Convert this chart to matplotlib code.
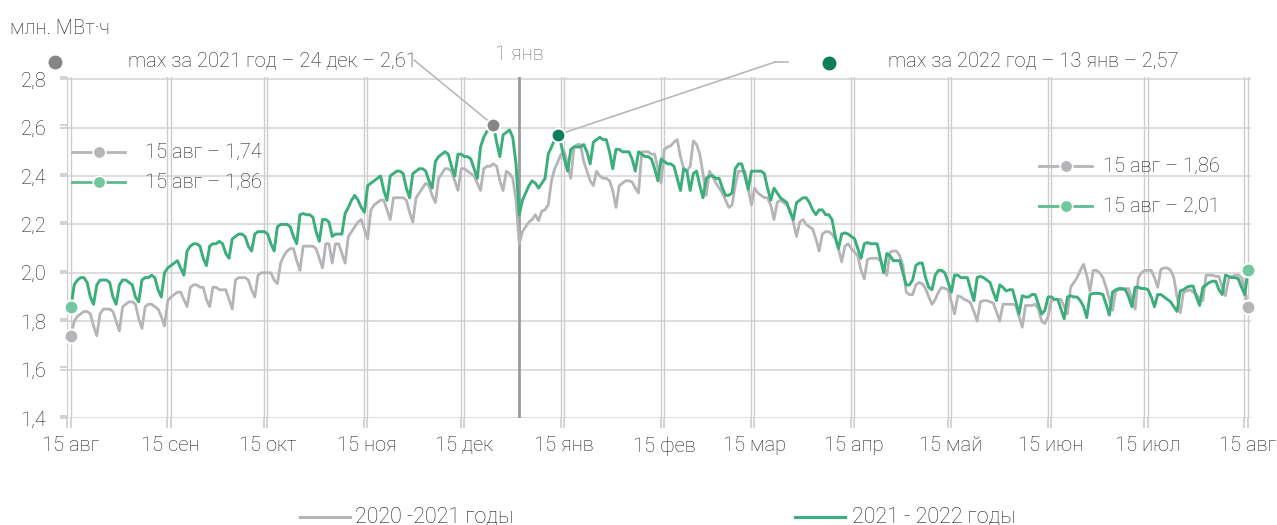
import numpy as np
import matplotlib
matplotlib.use("Agg")
import matplotlib.pyplot as plt
from matplotlib.lines import Line2D
import datetime as dt

plt.rcParams['font.family'] = ['Roboto', 'DejaVu Sans']
plt.rcParams['font.weight'] = 'light'

# ---------------- data ----------------
# daily consumption, 15 Aug -> 15 Aug (366 points)
series_2021_2022 = [
    1.86,
    1.95, 1.97, 1.98, 1.98, 1.96, 1.90, 1.87,
    1.95, 1.97, 1.97, 1.97, 1.96, 1.90, 1.87,
    1.95, 1.97, 1.97, 1.96, 1.95, 1.90, 1.88,
    1.97, 1.98, 1.98, 1.99, 1.98, 1.93, 1.90,
    2.00, 2.02, 2.03, 2.04, 2.05, 2.02, 1.99,
    2.09, 2.11, 2.12, 2.12, 2.11, 2.06, 2.03,
    2.11, 2.12, 2.12, 2.13, 2.12, 2.08, 2.06,
    2.14, 2.15, 2.16, 2.16, 2.15, 2.11, 2.09,
    2.16, 2.17, 2.17, 2.17, 2.16, 2.12, 2.09,
    2.19, 2.20, 2.20, 2.20, 2.19, 2.15, 2.12,
    2.24, 2.245, 2.24, 2.24, 2.23, 2.17, 2.13,
    2.22, 2.22, 2.21, 2.15, 2.16, 2.16, 2.16,
    2.245, 2.27, 2.30, 2.32, 2.30, 2.27, 2.25,
    2.36, 2.37, 2.38, 2.39, 2.40, 2.34, 2.30,
    2.40, 2.41, 2.42, 2.42, 2.41, 2.35, 2.31,
    2.41, 2.42, 2.43, 2.43, 2.42, 2.38, 2.35,
    2.46, 2.48, 2.49, 2.50, 2.49, 2.44, 2.40,
    2.49, 2.49, 2.48, 2.48, 2.47, 2.43, 2.39,
    2.52, 2.56, 2.585, 2.59, 2.61, 2.54, 2.48,
    2.57, 2.58, 2.59, 2.56, 2.45, 2.24, 2.30,
    2.33, 2.36, 2.38, 2.37, 2.35, 2.37, 2.39,
    2.49, 2.52, 2.55, 2.57, 2.53, 2.47, 2.42,
    2.51, 2.52, 2.52, 2.52, 2.53, 2.50, 2.45,
    2.54, 2.55, 2.56, 2.55, 2.55, 2.50, 2.43,
    2.51, 2.51, 2.50, 2.50, 2.50, 2.47, 2.42,
    2.50, 2.49, 2.48, 2.48, 2.47, 2.43, 2.38,
    2.47, 2.46, 2.45, 2.45, 2.44, 2.39, 2.34,
    2.43, 2.42, 2.34, 2.41, 2.42, 2.36, 2.31,
    2.39, 2.40, 2.40, 2.39, 2.39, 2.35, 2.32,
    2.32, 2.33, 2.43, 2.45, 2.45, 2.40, 2.345,
    2.42, 2.42, 2.42, 2.42, 2.41, 2.35, 2.30,
    2.35, 2.33, 2.31, 2.30, 2.29, 2.25, 2.22,
    2.29, 2.30, 2.31, 2.31, 2.29, 2.26, 2.24,
    2.26, 2.26, 2.24, 2.24, 2.22, 2.15, 2.10,
    2.16, 2.165, 2.16, 2.15, 2.14, 2.10, 2.06,
    2.12, 2.125, 2.12, 2.12, 2.12, 2.06, 2.00,
    2.08, 2.07, 2.05, 2.05, 2.05, 2.00, 1.95,
    1.95, 1.97, 2.03, 2.04, 2.04, 1.98, 1.94,
    1.93, 1.99, 2.01, 2.01, 2.00, 1.96, 1.92,
    1.99, 1.99, 1.98, 1.98, 1.98, 1.93, 1.885,
    1.98, 1.985, 1.98, 1.97, 1.96, 1.92, 1.885,
    1.95, 1.94, 1.925, 1.93, 1.93, 1.88, 1.83,
    1.905, 1.90, 1.90, 1.91, 1.91, 1.87, 1.83,
    1.845, 1.90, 1.90, 1.89, 1.89, 1.85, 1.81,
    1.90, 1.905, 1.90, 1.90, 1.885, 1.86, 1.815,
    1.91, 1.915, 1.915, 1.915, 1.91, 1.87, 1.825,
    1.92, 1.93, 1.935, 1.935, 1.93, 1.90, 1.86,
    1.94, 1.94, 1.935, 1.935, 1.93, 1.90, 1.86,
    1.91, 1.91, 1.90, 1.89, 1.88, 1.86, 1.84,
    1.925, 1.93, 1.94, 1.945, 1.945, 1.90, 1.865,
    1.94, 1.95, 1.96, 1.965, 1.965, 1.93, 1.91,
    1.99, 1.985, 1.98, 1.98, 1.975, 1.94, 1.91,
    2.01,
]

series_2020_2021 = [
    1.74, 1.80,
    1.82, 1.83, 1.84, 1.84, 1.83, 1.78, 1.74,
    1.83, 1.85, 1.85, 1.85, 1.84, 1.80, 1.76,
    1.86, 1.87, 1.88, 1.88, 1.87, 1.81, 1.77,
    1.86, 1.87, 1.87, 1.86, 1.85, 1.82, 1.78,
    1.885, 1.90, 1.91, 1.92, 1.92, 1.89, 1.86,
    1.94, 1.95, 1.95, 1.94, 1.94, 1.89, 1.86,
    1.94, 1.94, 1.93, 1.93, 1.93, 1.89, 1.85,
    1.97, 1.98, 1.98, 1.98, 1.97, 1.93, 1.90,
    1.99, 2.00, 2.00, 2.00, 2.00, 1.97, 1.955,
    2.04, 2.07, 2.09, 2.10, 2.10, 2.05, 2.01,
    2.11, 2.11, 2.11, 2.11, 2.10, 2.06, 2.02,
    2.12, 2.12, 2.04, 2.12, 2.12, 2.08, 2.04,
    2.15, 2.17, 2.19, 2.21, 2.22, 2.18, 2.14,
    2.26, 2.28, 2.29, 2.30, 2.30, 2.26, 2.22,
    2.31, 2.31, 2.31, 2.31, 2.30, 2.25, 2.21,
    2.31, 2.33, 2.35, 2.37, 2.36, 2.32, 2.29,
    2.39, 2.41, 2.43, 2.43, 2.42, 2.38, 2.34,
    2.43, 2.43, 2.42, 2.41, 2.40, 2.37, 2.34,
    2.43, 2.44, 2.44, 2.45, 2.44, 2.38, 2.34,
    2.42, 2.41, 2.39, 2.30, 2.12, 2.17, 2.19,
    2.21, 2.22, 2.24, 2.215, 2.255, 2.26, 2.28,
    2.38, 2.43, 2.46, 2.49, 2.50, 2.45, 2.39,
    2.52, 2.53, 2.53, 2.46, 2.42, 2.38, 2.36,
    2.42, 2.40, 2.39, 2.39, 2.38, 2.34, 2.27,
    2.36, 2.37, 2.38, 2.38, 2.375, 2.35, 2.33,
    2.50, 2.50, 2.50, 2.49, 2.49, 2.43, 2.37,
    2.51, 2.52, 2.525, 2.54, 2.55, 2.48, 2.43,
    2.42, 2.44, 2.545, 2.53, 2.49, 2.41, 2.32,
    2.42, 2.40, 2.37, 2.35, 2.33, 2.30, 2.27,
    2.28, 2.36, 2.42, 2.42, 2.42, 2.35, 2.28,
    2.35, 2.33, 2.32, 2.31, 2.31, 2.28, 2.22,
    2.29, 2.30, 2.29, 2.28, 2.26, 2.21, 2.15,
    2.21, 2.22, 2.20, 2.19, 2.18, 2.14, 2.09,
    2.16, 2.17, 2.17, 2.16, 2.14, 2.10, 2.045,
    2.11, 2.12, 2.10, 2.085, 2.07, 2.01, 1.975,
    2.055, 2.06, 2.06, 2.06, 2.05, 2.02, 1.99,
    2.085, 2.09, 2.09, 2.07, 2.03, 1.92, 1.91,
    1.91, 1.95, 1.96, 1.955, 1.935, 1.90, 1.87,
    1.89, 1.92, 1.94, 1.935, 1.93, 1.88, 1.83,
    1.905, 1.90, 1.89, 1.885, 1.875, 1.84, 1.80,
    1.88, 1.885, 1.885, 1.88, 1.875, 1.84, 1.80,
    1.87, 1.87, 1.87, 1.87, 1.865, 1.82, 1.775,
    1.865, 1.865, 1.865, 1.87, 1.85, 1.80, 1.79,
    1.82, 1.885, 1.89, 1.89, 1.89, 1.86, 1.83,
    1.94, 1.96, 1.98, 2.01, 2.035, 1.99, 1.925,
    2.01, 2.01, 2.00, 1.98, 1.94, 1.89, 1.845,
    1.925, 1.93, 1.93, 1.935, 1.935, 1.89, 1.85,
    1.98, 2.00, 2.01, 2.01, 2.01, 1.98, 1.94,
    2.015, 2.02, 2.02, 2.01, 1.98, 1.90, 1.835,
    1.92, 1.925, 1.93, 1.92, 1.91, 1.895, 1.885,
    1.99, 1.99, 1.99, 1.985, 1.985, 1.94, 1.905,
    1.975, 1.985, 1.99, 1.99, 1.98, 1.93, 1.86,
]

tick_days = [0, 31, 61, 92, 122, 153, 184, 212, 243, 273, 304, 334, 365]
tick_labels = ['15 авг', '15 сен', '15 окт', '15 ноя', '15 дек', '15 янв', '15 фев',
               '15 мар', '15 апр', '15 май', '15 июн', '15 июл', '15 авг']
y_ticks = [1.4, 1.6, 1.8, 2.0, 2.2, 2.4, 2.6, 2.8]
month_abbr = ['янв', 'фев', 'мар', 'апр', 'май', 'июн', 'июл', 'авг', 'сен', 'окт', 'ноя', 'дек']
start_2021 = dt.date(2021, 8, 15)
newyear_day = (dt.date(2022, 1, 1) - start_2021).days
legend_names = ['2020 -2021 годы', '2021 - 2022 годы']

# ---------------- styling ----------------
W, H = 1277, 525
C_GRAY = '#b5b5b9'
C_GREEN = '#3cae7c'
C_GREEN_LIGHT = '#72c6a0'
C_TEXT = '#202020'
C_GRID = '#d7d7d7'


def fx(px):
    return px / W


def fy(py):
    return 1 - py / H


def fmt(v):
    return f"{v:.2f}".replace('.', ',')


fig = plt.figure(figsize=(W / 100, H / 100), dpi=100)
ax_left, ax_right, ax_top, ax_bottom = 67, 1251, 77, 418
ax = fig.add_axes([fx(ax_left), fy(ax_bottom), (ax_right - ax_left) / W, (ax_bottom - ax_top) / H])

px_per_day = (1248 - 71) / 365.0
ax.set_xlim(-(71 - ax_left) / px_per_day, 365 + (ax_right - 1248) / px_per_day)
ax.set_ylim(1.4, 2.8)
for s in ax.spines.values():
    s.set_visible(False)

# grid
for y in y_ticks:
    ax.axhline(y, color=C_GRID, lw=1.2, zorder=0)
for d in tick_days:
    ax.axvline(d - 1.1, color='#cdcdcd', lw=1.0, zorder=0)
    ax.axvline(d - 0.1, color='#cdcdcd', lw=1.0, zorder=0)

# new year line
ax.axvline(newyear_day, color='#9a9a9a', lw=2.0, zorder=1)

# ticks
ax.set_xticks([d - 0.1 for d in tick_days])
ax.set_xticklabels(tick_labels)
ax.set_xticks([d - 1.1 for d in tick_days], minor=True)
ax.set_yticks(y_ticks)
ax.set_yticklabels([fmt(v)[:3] for v in y_ticks])
ax.set_yticks([v + 0.009 for v in y_ticks], minor=True)
ax.tick_params(axis='x', which='both', direction='out', length=7, width=1.1, color='#c8c8c8')
ax.tick_params(axis='x', which='major', pad=6, labelsize=14.5, labelcolor=C_TEXT)
ax.tick_params(axis='y', which='both', direction='out', length=5, width=1.1, color='#c8c8c8')
ax.tick_params(axis='y', which='major', pad=10, labelsize=14.5, labelcolor=C_TEXT)

# series
g_prev = np.array(series_2020_2021)
g_cur = np.array(series_2021_2022)
ax.plot(np.arange(len(g_prev)), g_prev, color=C_GRAY, lw=2.0, zorder=3, solid_joinstyle='round')
ax.plot(np.arange(len(g_cur)), g_cur, color=C_GREEN, lw=2.1, zorder=4, solid_joinstyle='round')

# end markers
mk = dict(ms=10, mec='white', mew=1.5, clip_on=False, zorder=6)
ax.plot(0, g_prev[0], 'o', mfc=C_GRAY, **mk)
ax.plot(0, g_cur[0], 'o', mfc=C_GREEN_LIGHT, **mk)
ax.plot(len(g_prev) - 1, g_prev[-1], 'o', mfc=C_GRAY, **mk)
ax.plot(len(g_cur) - 1, g_cur[-1], 'o', mfc=C_GREEN_LIGHT, **mk)

# maxima
i_2021 = int(np.argmax(g_cur[:newyear_day]))
i_2022 = newyear_day + int(np.argmax(g_cur[newyear_day:]))
d_2021 = start_2021 + dt.timedelta(days=i_2021)
d_2022 = start_2021 + dt.timedelta(days=i_2022)
ax.plot(i_2021, g_cur[i_2021], 'o', mfc='#868686', **mk)
ax.plot(i_2022, g_cur[i_2022], 'o', mfc='#0f7d57', **mk)

txt = dict(color=C_TEXT, fontsize=14.5, va='center')
fig.text(fx(10), fy(28), 'млн. МВт·ч', ha='left', **txt)

# max 2021 annotation
fig.add_artist(Line2D([fx(55)], [fy(62)], marker='o', ms=9, color='#868686',
                      transform=fig.transFigure))
fig.text(fx(128), fy(62), f"max за 2021 год – {d_2021.day} {month_abbr[d_2021.month - 1]} – {fmt(g_cur[i_2021])}",
         ha='left', **txt)
ax.annotate('', xy=(i_2021, g_cur[i_2021]), xycoords='data',
            xytext=(414, H - 60), textcoords='figure pixels',
            arrowprops=dict(arrowstyle='-', color='#b8b8b8', lw=1.2, shrinkA=0, shrinkB=0), zorder=2)

# 1 Jan label
fig.text(fx(495), fy(54), '1 янв', ha='left', color='#707070', fontsize=14.5, va='center')

# max 2022 annotation
ax.annotate('', xy=(i_2022, g_cur[i_2022]), xycoords='data',
            xytext=(775, H - 62), textcoords='figure pixels',
            arrowprops=dict(arrowstyle='-', color='#b8b8b8', lw=1.2, shrinkA=0, shrinkB=0), zorder=2)
fig.add_artist(Line2D([fx(775), fx(788)], [fy(62), fy(62)], color='#b8b8b8', lw=1.2,
                      transform=fig.transFigure))
fig.add_artist(Line2D([fx(829)], [fy(63)], marker='o', ms=9, color='#0f7d57',
                      transform=fig.transFigure))
fig.text(fx(888), fy(62), f"max за 2022 год – {d_2022.day} {month_abbr[d_2022.month - 1]} – {fmt(g_cur[i_2022])}",
         ha='left', **txt)


# inner legends
def inner_legend(x0, x1, xd, xt, y, lc, dc, label):
    fig.add_artist(Line2D([fx(x0), fx(x1)], [fy(y), fy(y)], color=lc, lw=2.0, transform=fig.transFigure))
    fig.add_artist(Line2D([fx(xd)], [fy(y)], marker='o', ms=9, color=dc, mec='white', mew=1.2,
                          transform=fig.transFigure))
    fig.text(fx(xt), fy(y), label, ha='left', **txt)


inner_legend(72, 125, 99, 145, 152, C_GRAY, C_GRAY, f"15 авг – {fmt(g_prev[0])}")
inner_legend(72, 125, 99, 145, 182, '#5dbb8f', C_GREEN_LIGHT, f"15 авг – {fmt(g_cur[0])}")
inner_legend(1039, 1092, 1066, 1103, 166, C_GRAY, C_GRAY, f"15 авг – {fmt(g_prev[-1])}")
inner_legend(1039, 1092, 1066, 1103, 206, '#5dbb8f', C_GREEN_LIGHT, f"15 авг – {fmt(g_cur[-1])}")

# bottom legend
for (x0, x1, xt, col, name) in [(300, 350, 355, C_GRAY, legend_names[0]),
                                (795, 845, 852, C_GREEN, legend_names[1])]:
    fig.add_artist(Line2D([fx(x0), fx(x1)], [fy(517), fy(517)], color=col, lw=2.2,
                          transform=fig.transFigure))
    fig.text(fx(xt), fy(517), name, ha='left', color=C_TEXT, fontsize=15.5, va='center')

fig.savefig('out.png', dpi=100)
